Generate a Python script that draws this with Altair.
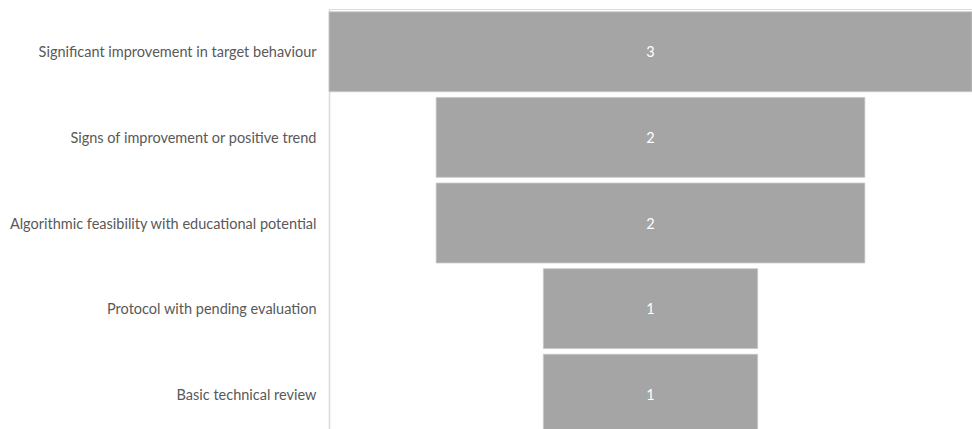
import altair as alt
import pandas as pd

stages = [
    "Significant improvement in target behaviour",
    "Signs of improvement or positive trend",
    "Algorithmic feasibility with educational potential",
    "Protocol with pending evaluation",
    "Basic technical review",
]
counts = [3, 2, 2, 1, 1]

df = pd.DataFrame({"stage": stages, "count": counts})
df["left"] = -df["count"] / 2
df["right"] = df["count"] / 2

FONT = "Lato"

y_enc = alt.Y(
    "stage:N",
    sort=stages,
    scale=alt.Scale(paddingInner=0.067, paddingOuter=0.033),
    axis=alt.Axis(
        title=None,
        ticks=False,
        domainColor="#d9d9d9",
        domainWidth=1.5,
        labelColor="#595959",
        labelFont=FONT,
        labelFontSize=14.5,
        labelPadding=13,
        labelLimit=400,
        labelOffset=1.5,
        grid=False,
    ),
)

x_scale = alt.Scale(domain=[-1.5, 1.5], nice=False, zero=False)

bars = alt.Chart(df).mark_bar(color="#a5a5a5", stroke="#c8c8c8", strokeWidth=0.8).encode(
    x=alt.X("left:Q", scale=x_scale, axis=None),
    x2="right:Q",
    y=y_enc,
)

labels = alt.Chart(df).mark_text(color="white", font=FONT, fontSize=14.5, dy=1.5).encode(
    x=alt.value(321.5),
    y=alt.Y("stage:N", sort=stages),
    text="count:Q",
)

chart = (
    alt.layer(bars, labels)
    .properties(
        width=643,
        height=428,
        autosize=alt.AutoSizeParams(type="none"),
        padding={"left": 329, "top": 9, "right": 0, "bottom": 0},
    )
    .configure_view(stroke=None)
    .configure(background="white")
)

chart.save("out.html", embed_options={"renderer": "svg", "actions": False})
